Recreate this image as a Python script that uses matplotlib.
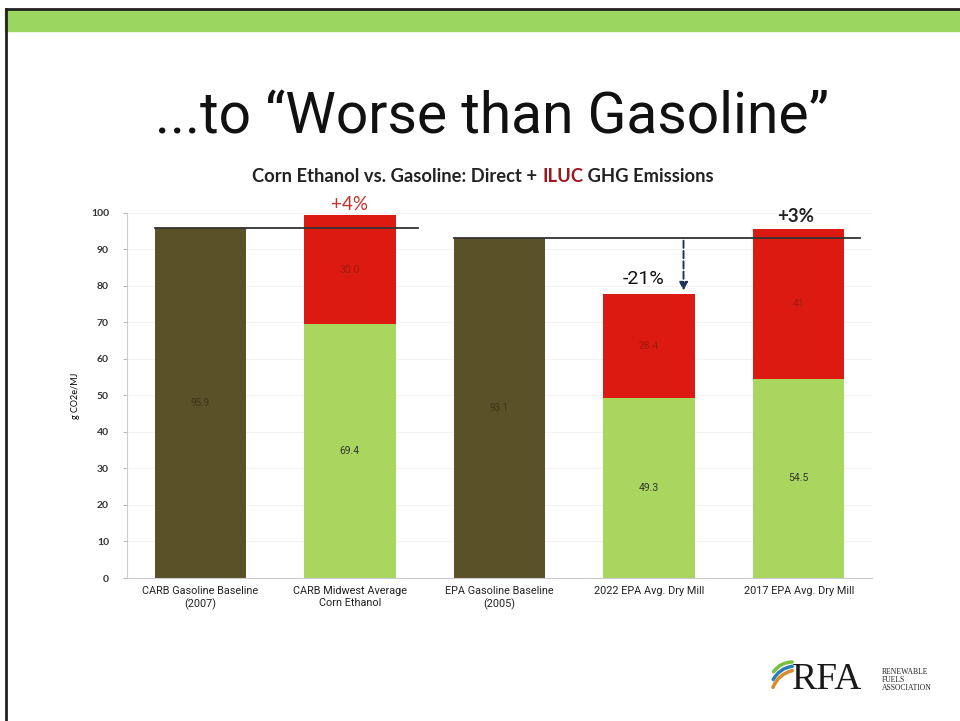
import matplotlib.pyplot as plt
import matplotlib.patches as mpatches
import numpy as np

categories = ['CARB Gasoline Baseline\n(2007)', 'CARB Midwest Average\nCorn Ethanol',
              'EPA Gasoline Baseline\n(2005)', '2022 EPA Avg. Dry Mill', '2017 EPA Avg. Dry Mill']
gasoline = [95.9, 0, 93.1, 0, 0]
direct = [0, 69.4, 0, 49.3, 54.5]
iluc = [0, 30.0, 0, 28.4, 41.0]
gas_labels = ['95.9', '', '93.1', '', '']
direct_labels = ['', '69.4', '', '49.3', '54.5']
iluc_labels = ['', '30.0', '', '28.4', '41']
carb_base = 95.9
epa_base = 93.1

narrow = ['Roboto', 'DejaVu Sans']
calib = ['Lato', 'DejaVu Sans']

fig = plt.figure(figsize=(9.6, 7.21), dpi=100)

# slide frame + green band
fig.patches.append(mpatches.Rectangle((5/960, 1-31/721), 1, 21/721, transform=fig.transFigure,
                                      color='#9ad660', zorder=0))
fig.add_artist(plt.Line2D([5.5/960, 1], [1-9/721, 1-9/721], color='#222222', lw=2))
fig.add_artist(plt.Line2D([5.5/960, 5.5/960], [0, 1-9/721], color='#222222', lw=2))

fig.text(0.512, 1-118/721, '...to \u201cWorse than Gasoline\u201d', ha='center', va='center',
         fontsize=41, family=narrow, color='#111111')

ax = fig.add_axes([127/960, 1-578/721, 745/960, 365.3/721])
x = np.arange(len(categories))
w = 0.61
ax.bar(x, gasoline, w, color='#5a5128')
ax.bar(x, direct, w, color='#a9d65e')
ax.bar(x, iluc, w, bottom=direct, color='#dd1a12')

for i in x:
    if gas_labels[i]:
        ax.text(i, gasoline[i] / 2, gas_labels[i], ha='center', va='center', fontsize=7,
                color='#3a3418', family=narrow)
    if direct_labels[i]:
        ax.text(i, direct[i] / 2, direct_labels[i], ha='center', va='center', fontsize=7.5,
                color='#333333', family=narrow)
    if iluc_labels[i]:
        ax.text(i, direct[i] + iluc[i] / 2, iluc_labels[i], ha='center', va='center', fontsize=7.5,
                color='#9a1a10', family=narrow)

# baseline reference lines
ax.plot([-0.305, 1.456], [carb_base, carb_base], color='#333333', lw=1.3)
ax.plot([2 - 0.305, 4.413], [epa_base, epa_base], color='#333333', lw=1.3)

# annotations
ax.text(1, 99.4 + 0.4, '+4%', ha='center', va='bottom', fontsize=13.5, color='#c9302a', family=calib)
ax.text(3.98, 95.5 + 1.0, '+3%', ha='center', va='bottom', fontsize=13.5, color='#222222',
        family=calib, fontweight='bold')
ax.text(2.96, 79.3, '-21%', ha='center', va='bottom', fontsize=14, color='#111111', family=narrow)
ax.annotate('', xy=(3.23, 77.9), xytext=(3.23, epa_base),
            arrowprops=dict(arrowstyle='-|>', color='#1f3556', lw=1.4, ls='--', mutation_scale=12))

ax.set_xlim(-0.49, 4.49)
ax.set_ylim(0, 100)
ax.set_yticks(range(0, 101, 10))
ax.tick_params(axis='y', labelsize=7.5, length=3, color='#bbbbbb', pad=10)
ax.tick_params(axis='x', length=0, labelsize=7.8, pad=6)
for lab in ax.get_yticklabels():
    lab.set_family(calib)
    lab.set_fontweight('bold')
    lab.set_color('#333333')
ax.set_xticks(x)
ax.set_xticklabels(categories, family=narrow, fontsize=7.8, color='#222222')
ax.yaxis.grid(True, color='#f3f3f3', lw=0.8)
ax.set_axisbelow(True)
for s in ['top', 'right']:
    ax.spines[s].set_visible(False)
ax.spines['left'].set_color('#cccccc')
ax.spines['bottom'].set_color('#cccccc')
ax.set_ylabel('g CO2e/MJ', fontsize=6.5, family=calib, labelpad=8)

# chart title with coloured ILUC
parts = [('Corn Ethanol vs. Gasoline: Direct + ', '#222222'), ('ILUC', '#a0161c'),
         (' GHG Emissions', '#222222')]
fig.canvas.draw()
r = fig.canvas.get_renderer()
texts = []
xpos = 0.0
for s, c in parts:
    t = fig.text(xpos, 1-177/721, s, color=c, fontsize=13.2, family=calib, fontweight='bold',
                 va='center', ha='left')
    texts.append(t)
    xpos += t.get_window_extent(r).width / fig.bbox.width
start = 483/960 - xpos / 2
off = start
for t in texts:
    t.set_x(off)
    off += t.get_window_extent(r).width / fig.bbox.width

# RFA logo (text)
fig.text(792/960, 1-680/721, 'RFA', fontsize=27, family=['Liberation Serif', 'DejaVu Serif'],
         color='#1a1a1a', ha='left', va='center')
fig.text(882/960, 1-680/721, 'RENEWABLE\nFUELS\nASSOCIATION', fontsize=5.5,
         family=['Liberation Serif', 'DejaVu Serif'], color='#222222', ha='left', va='center',
         linespacing=1.0)
for dy, col in [(-8, '#7bbf3e'), (0, '#2a7fb8'), (8, '#d98a2b')]:
    fig.add_artist(mpatches.FancyArrowPatch((772/960, (1-(682+dy)/721)), (795/960, (1-(666+dy/2)/721)),
                                            connectionstyle='arc3,rad=-0.3', arrowstyle='-',
                                            color=col, lw=2.5, transform=fig.transFigure))

fig.savefig('out.png', dpi=100)
